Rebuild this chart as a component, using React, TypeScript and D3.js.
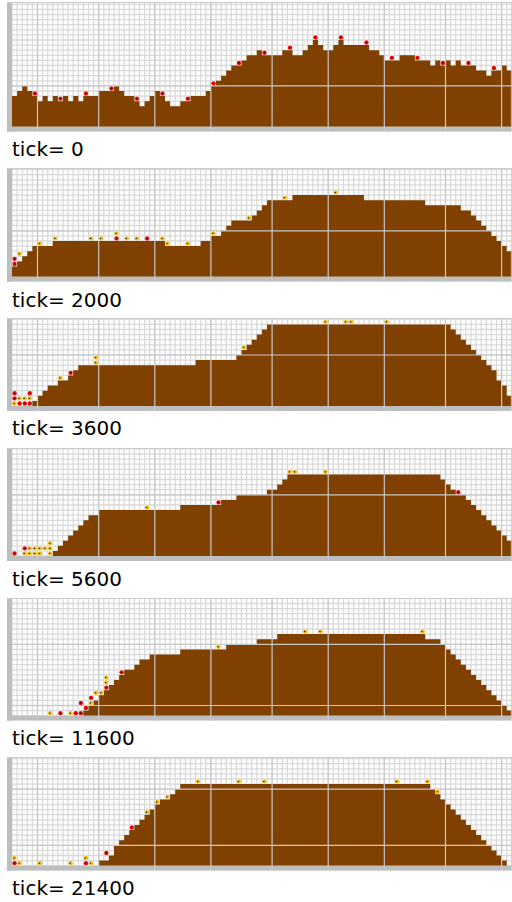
import React from "react";
import * as d3 from "d3";

const COLS = 98;
const CELL = 5.1;
const X0 = 12;

const ticks = [0, 2000, 3600, 5600, 11600, 21400];

const heights0 = [6,7,8,7,6,5,6,5,6,5, 6,5,6,5,6,6,6,7,7,7, 8,7,6,6,5,4,5,6,7,6, 5,4,4,5,5,6,6,6,7,8, 9,10,11,12,12,13,14,14,15,14, 14,14,14,15,15,14,14,15,16,17, 16,15,15,16,17,16,16,16,16,16, 15,15,14,13,13,13,14,14,14,13, 13,13,12,13,12,13,12,13,12,12, 12,11,11,10,11,11,12,11];
const heights1 = [2,3,4,5,6,6,6,6,7,7, 7,7,7,7,7,7,7,7,7,7, 7,7,7,7,7,7,7,7,7,7, 6,6,6,6,6,6,6,7,7,8, 8,9,10,11,11,11,11,12,13,14, 15,15,15,15,15,16,16,16,16,16, 16,16,16,16,16,16,16,16,16,15, 15,15,15,15,15,15,15,15,15,15, 15,14,14,14,14,14,14,14,13,13, 12,11,10,9,8,7,6,5];
const heights2 = [0,0,0,0,1,2,3,4,4,5, 5,6,7,8,8,8,8,8,8,8, 8,8,8,8,8,8,8,8,8,8, 8,8,8,8,8,8,9,9,9,9, 9,9,9,9,10,11,12,13,14,15, 16,16,16,16,16,16,16,16,16,16, 16,16,16,16,16,16,16,16,16,16, 16,16,16,16,16,16,16,16,16,16, 16,16,16,16,16,16,15,14,13,12, 11,10,9,8,7,5,4,2];
const heights3 = [0,0,0,0,0,0,0,0,1,2, 3,4,5,6,7,8,8,9,9,9, 9,9,9,9,9,9,9,9,9,9, 9,9,9,10,10,10,10,10,10,10, 10,11,11,11,12,12,12,12,12,12, 13,13,14,15,16,16,16,16,16,16, 16,16,16,16,16,16,16,16,16,16, 16,16,16,16,16,16,16,16,16,16, 16,16,16,16,15,14,13,12,12,11, 10,9,8,7,6,5,4,3];
const heights4 = [0,0,0,0,0,0,0,0,0,0, 0,0,0,0,1,2,3,4,5,6, 7,8,9,9,10,11,11,12,12,12, 12,12,12,13,13,13,13,13,13,13, 13,13,14,14,14,14,14,14,15,15, 15,15,16,16,16,16,16,16,16,16, 16,16,16,16,16,16,16,16,16,16, 16,16,16,16,16,16,16,16,16,16, 16,15,15,15,14,13,12,11,10,9, 8,7,6,5,4,3,2,1];
const heights5 = [0,0,0,0,0,0,0,0,0,0, 0,0,0,0,0,0,0,1,1,2, 4,5,6,7,8,9,10,11,12,13, 13,14,15,16,16,16,16,16,16,16, 16,16,16,16,16,16,16,16,16,16, 16,16,16,16,16,16,16,16,16,16, 16,16,16,16,16,16,16,16,16,16, 16,16,16,16,16,16,16,16,16,16, 16,16,15,14,13,12,11,10,9,8, 7,6,5,4,3,2,1,0];

type Ant = [number, number, "r" | "y"];
const ants0: Ant[] = [[4,6,"r"],[9,5,"r"],[14,6,"r"],[19,7,"r"],[24,5,"r"],[29,6,"r"],[34,5,"r"],[39,8,"r"],[44,12,"r"],[49,14,"r"],[54,15,"r"],[59,17,"r"],[64,17,"r"],[69,16,"r"],[74,13,"r"],[79,13,"r"],[84,12,"r"],[89,12,"r"],[94,11,"r"]];
const ants1: Ant[] = [[0,3,"r"],[0,2,"r"],[1,4,"y"],[5,6,"y"],[8,7,"y"],[15,7,"y"],[17,7,"y"],[20,8,"y"],[20,7,"r"],[22,7,"y"],[24,7,"y"],[26,7,"r"],[29,7,"y"],[30,6,"y"],[34,6,"y"],[39,8,"y"],[46,11,"y"],[53,15,"y"],[63,16,"y"]];
const ants2: Ant[] = [[0,0,"y"],[0,1,"r"],[0,2,"r"],[1,0,"r"],[1,1,"y"],[2,0,"r"],[2,1,"y"],[3,0,"r"],[3,1,"y"],[3,2,"r"],[9,5,"y"],[11,6,"r"],[16,8,"y"],[16,9,"y"],[45,11,"y"],[61,16,"y"],[65,16,"y"],[66,16,"y"],[73,16,"y"]];
const ants3: Ant[] = [[0,0,"r"],[2,0,"y"],[3,0,"y"],[4,0,"y"],[5,0,"y"],[7,0,"y"],[2,1,"r"],[3,1,"y"],[4,1,"y"],[5,1,"y"],[6,1,"y"],[7,1,"y"],[7,2,"y"],[26,9,"y"],[40,10,"r"],[54,16,"y"],[55,16,"y"],[61,16,"y"],[87,12,"r"]];
const ants4: Ant[] = [[7,0,"y"],[9,0,"r"],[11,0,"y"],[12,0,"r"],[13,0,"r"],[14,1,"r"],[13,2,"r"],[15,2,"y"],[15,3,"r"],[16,4,"y"],[17,4,"y"],[18,5,"r"],[18,6,"y"],[18,7,"y"],[21,8,"r"],[40,13,"y"],[57,16,"y"],[60,16,"y"],[80,16,"y"]];
const ants5: Ant[] = [[0,1,"y"],[0,0,"r"],[1,0,"y"],[5,0,"y"],[11,0,"y"],[14,1,"y"],[14,0,"r"],[15,0,"y"],[18,2,"r"],[23,7,"r"],[26,10,"y"],[28,12,"y"],[30,13,"y"],[36,16,"y"],[44,16,"y"],[49,16,"y"],[75,16,"y"],[81,16,"y"],[83,14,"y"]];

const majorCols = [5, 17, 28, 39, 51, 62, 73, 85, 96];
const majorRows = [[8], [9], [10], [12], [2, 14], [4, 15]];

const heights = [heights0, heights1, heights2, heights3, heights4, heights5];
const ants = [ants0, ants1, ants2, ants3, ants4, ants5];

const layout = [
  { top: 2, floor: 126.7, label: 156 },
  { top: 168, floor: 276.7, label: 306.5 },
  { top: 318, floor: 406, label: 435 },
  { top: 448, floor: 556, label: 585.5 },
  { top: 598, floor: 715.7, label: 745 },
  { top: 757, floor: 865.7, label: 895 },
];

const BROWN = "#804000";

function Panel({ idx }: { idx: number }) {
  const h = heights[idx];
  const { top, floor, label } = layout[idx];
  const x = d3.scaleLinear().domain([0, COLS]).range([X0, X0 + COLS * CELL]);
  const y = d3.scaleLinear().domain([0, 1]).range([floor, floor - CELL]);
  const right = x(COLS);
  const nRows = Math.ceil((floor - top) / CELL);
  const pts = [...h, h[h.length - 1]];
  const area = d3
    .area<number>()
    .x((_, i) => x(i))
    .y0(floor)
    .y1((d) => y(d))
    .curve(d3.curveStepAfter);
  const clipId = `clip${idx}`;
  return (
    <g>
      <defs>
        <clipPath id={clipId}>
          <rect x={X0 - CELL} y={top} width={right - X0 + CELL} height={floor + CELL - top} />
        </clipPath>
      </defs>
      <g clipPath={`url(#${clipId})`}>
        <rect x={X0} y={top} width={right - X0} height={floor - top} fill="#ffffff" />
        {d3.range(0, COLS + 1).map((c) => (
          <line key={"v" + c} x1={x(c)} x2={x(c)} y1={top} y2={floor} stroke="#dadada" strokeWidth={1.3} />
        ))}
        {d3.range(0, nRows + 1).map((r) => (
          <line key={"h" + r} x1={X0} x2={right} y1={y(r)} y2={y(r)} stroke="#dadada" strokeWidth={1.3} />
        ))}
        <path d={area(pts) || ""} fill={BROWN} />
        <rect x={X0 - CELL} y={top} width={CELL} height={floor + CELL - top} fill="#bebebe" />
        <rect x={X0 - CELL} y={floor} width={right - X0 + CELL} height={CELL} fill="#bebebe" />
        <line x1={X0 - CELL} x2={right} y1={top + 0.5} y2={top + 0.5} stroke="#cccccc" strokeWidth={1} />
        {majorCols.map((c) => (
          <line key={"mv" + c} x1={x(c)} x2={x(c)} y1={top} y2={floor + CELL} stroke="#c8c8c8" strokeWidth={1.2} />
        ))}
        {majorRows[idx].map((r) => (
          <line key={"mh" + r} x1={X0} x2={right} y1={y(r)} y2={y(r)} stroke="#c8c8c8" strokeWidth={1.2} />
        ))}
        <line x1={right - 0.5} x2={right - 0.5} y1={top} y2={floor + CELL} stroke="#cccccc" strokeWidth={1} />
        {ants[idx].map(([c, r, t], i) => {
          const cx = x(c + 0.5);
          const cy = y(r + 0.5);
          return (
            <g key={"a" + i}>
              <rect x={x(c) + 0.4} y={y(r + 1) + 0.4} width={CELL - 0.8} height={CELL - 0.8} fill="#ffffff" />
              {t === "r" ? (
                <>
                  <circle cx={cx} cy={cy} r={2.2} fill="#f20d0d" />
                  <circle cx={cx} cy={cy} r={0.9} fill="#6a0000" />
                </>
              ) : (
                <>
                  <circle cx={cx} cy={cy} r={2.2} fill="#f0c020" />
                  <rect x={cx - 1.3} y={cy - 0.6} width={1.3} height={1.2} fill="#222" />
                </>
              )}
            </g>
          );
        })}
      </g>
      <text x={12} y={label} fontFamily="DejaVu Sans" fontSize={20} fill="#000">
        {`tick= ${ticks[idx]}`}
      </text>
    </g>
  );
}

export default function App() {
  return (
    <svg
      width={512}
      height={902}
      style={{ position: "absolute", left: 0, top: 0, background: "#fff" }}
    >
      {ticks.map((_, i) => (
        <Panel key={i} idx={i} />
      ))}
    </svg>
  );
}
